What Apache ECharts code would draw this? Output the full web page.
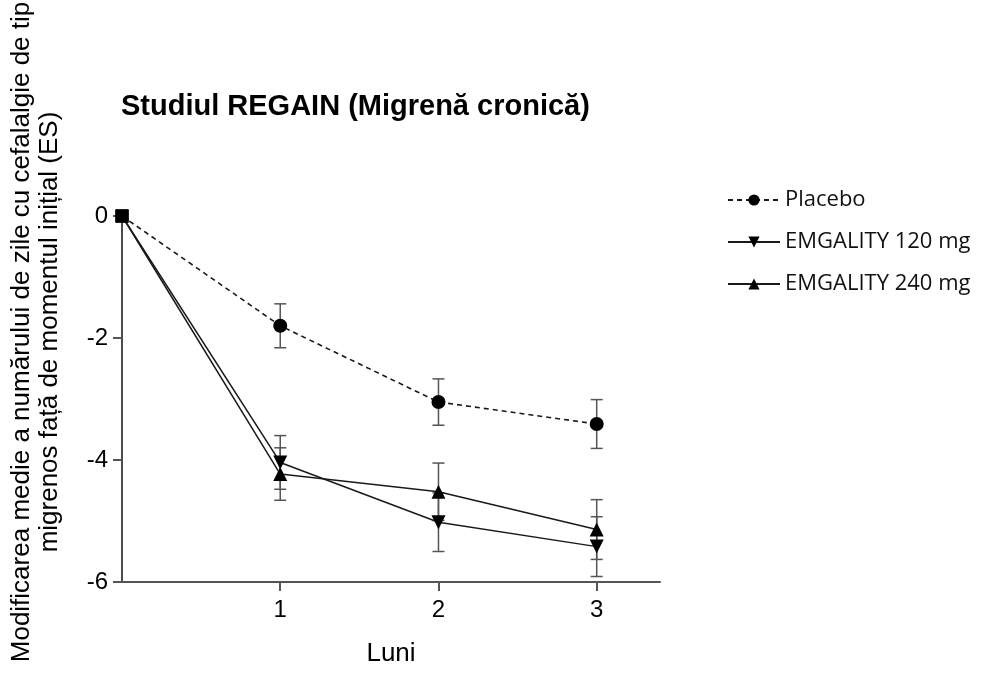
<!DOCTYPE html>
<html><head><meta charset="utf-8">
<script src="https://cdn.jsdelivr.net/npm/echarts@6/dist/echarts.min.js"></script>
<style>html,body{margin:0;padding:0;background:#fff}#c{width:1002px;height:681px}</style>
</head><body><div id="c"></div>
<script>
const months = [0, 1, 2, 3];
const xTicks = [1, 2, 3];
const yTicks = [0, -2, -4, -6];
const placebo = [0, -1.80, -3.05, -3.41];
const placeboSE = [0, 0.36, 0.38, 0.40];
const emg120 = [0, -4.04, -5.02, -5.42];
const emg120SE = [0, 0.44, 0.48, 0.49];
const emg240 = [0, -4.23, -4.52, -5.14];
const emg240SE = [0, 0.43, 0.47, 0.49];
const names = ['Placebo', 'EMGALITY 120 mg', 'EMGALITY 240 mg'];

const chart = echarts.init(document.getElementById('c'));
const ink = '#1a1a1a';
const font = 'Liberation Sans, Arial, sans-serif';

// baseline point (month 0) is drawn as a square, as in the original
function pts(vals) {
  return months.map((m, i) => i === 0 ? { value: [m, vals[i]], symbol: 'rect', symbolSize: 13 } : [m, vals[i]]);
}
function errData(vals, se) { return months.map((m, i) => [m, vals[i] - se[i], vals[i] + se[i]]).filter((d, i) => se[i] > 0); }
function errSeries(vals, se) {
  return {
    type: 'custom', silent: true, z: 1,
    data: errData(vals, se),
    renderItem: function (params, api) {
      const lo = api.coord([api.value(0), api.value(1)]);
      const hi = api.coord([api.value(0), api.value(2)]);
      const w = 6;
      const st = { stroke: '#555', lineWidth: 1.5 };
      return { type: 'group', children: [
        { type: 'line', shape: { x1: lo[0], y1: lo[1], x2: hi[0], y2: hi[1] }, style: st },
        { type: 'line', shape: { x1: lo[0] - w, y1: lo[1], x2: lo[0] + w, y2: lo[1] }, style: st },
        { type: 'line', shape: { x1: hi[0] - w, y1: hi[1], x2: hi[0] + w, y2: hi[1] }, style: st }
      ]};
    }
  };
}

chart.setOption({
  animation: false,
  title: { text: 'Studiul REGAIN (Migrenă cronică)', left: 116, top: 87,
    textStyle: { fontFamily: font, fontSize: 29, fontWeight: 'bold', color: '#000' } },
  legend: {
    left: 722, top: 184, orient: 'vertical', itemWidth: 52, itemHeight: 14, itemGap: 20,
    data: names,
    textStyle: { fontFamily: 'Open Sans, Liberation Sans, sans-serif', fontSize: 22, color: '#111' }
  },
  grid: { left: 122, right: 342, top: 216, bottom: 99, containLabel: false },
  xAxis: {
    type: 'value', min: 0, max: 3.4, interval: 1,
    name: 'Luni', nameLocation: 'middle', nameGap: 59,
    nameTextStyle: { fontFamily: font, fontSize: 26, color: '#000' },
    axisLine: { onZero: false, lineStyle: { color: '#555', width: 2 } },
    axisTick: { length: 9, lineStyle: { color: '#555', width: 2 }, customValues: xTicks },
    axisLabel: { fontFamily: font, fontSize: 24, color: '#000', margin: 16, customValues: xTicks },
    splitLine: { show: false }
  },
  yAxis: {
    type: 'value', min: -6, max: 0, interval: 2,
    axisLine: { onZero: false, lineStyle: { color: '#111', width: 1.5 } },
    axisTick: { length: 9, lineStyle: { color: '#555', width: 2 }, customValues: yTicks },
    axisLabel: { fontFamily: font, fontSize: 24, color: '#000', margin: 14, customValues: yTicks },
    splitLine: { show: false }
  },
  graphic: [
    { type: 'text', rotation: Math.PI / 2, x: 8, y: 332,
      style: { text: 'Modificarea medie a numărului de zile cu cefalalgie de tip\nmigrenos față de momentul inițial (ES)',
        font: '26px ' + font, fill: '#000', align: 'center', verticalAlign: 'top', lineHeight: 28 } }
  ],
  series: [
    errSeries(placebo, placeboSE),
    errSeries(emg120, emg120SE),
    errSeries(emg240, emg240SE),
    { name: names[0], type: 'line', data: pts(placebo), z: 3,
      symbol: 'circle', symbolSize: 14,
      lineStyle: { color: ink, width: 1.6, type: [5, 4] }, itemStyle: { color: '#000' } },
    { name: names[1], type: 'line', data: pts(emg120), z: 3,
      symbol: 'path://M0,0 L10,0 L5,9 Z', symbolSize: 14,
      lineStyle: { color: ink, width: 1.5 }, itemStyle: { color: '#000' } },
    { name: names[2], type: 'line', data: pts(emg240), z: 3,
      symbol: 'triangle', symbolSize: 14,
      lineStyle: { color: ink, width: 1.5 }, itemStyle: { color: '#000' } }
  ]
});
</script></body></html>
